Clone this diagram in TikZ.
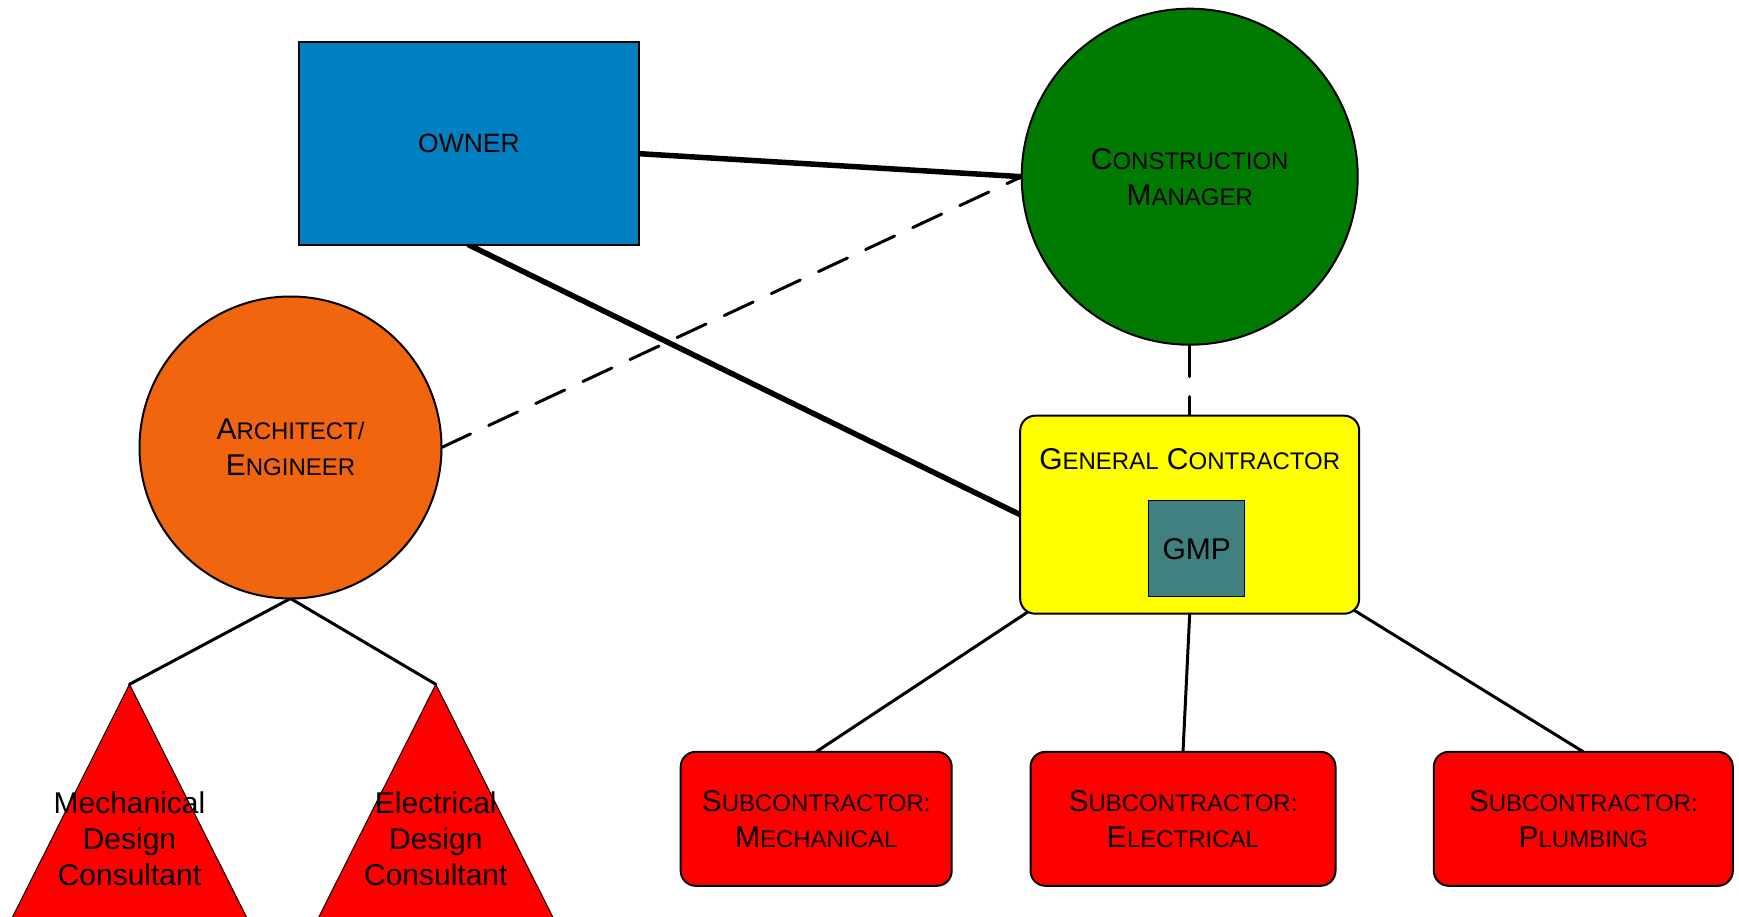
\documentclass[tikz,border=0pt]{standalone}
\usepackage{fontspec}
\setmainfont{Liberation Sans}
\usetikzlibrary{backgrounds}

\definecolor{ownerblue}{RGB}{0,128,192}
\definecolor{cmgreen}{RGB}{0,122,0}
\definecolor{aeorange}{RGB}{240,101,14}
\definecolor{gcyellow}{RGB}{255,255,0}
\definecolor{gmpteal}{RGB}{64,128,128}
\definecolor{subred}{RGB}{255,0,0}

% hand-made small capitals: full-size initial, reduced rest
\newcommand\capL[1]{{\fontsize{30}{36}\selectfont #1}}
\newcommand\capS[1]{{\fontsize{24}{36}\selectfont #1}}

\begin{document}
\begin{tikzpicture}[x=1pt,y=-1pt,
  base/.style={inner sep=0pt, outer sep=0pt, font=\fontsize{30}{36}\selectfont, align=center, text=black},
  party/.style={base, circle, draw=black, line width=2pt},
  box/.style={base, rectangle, draw=black, line width=2pt, rounded corners=15pt},
  plainbox/.style={base, rectangle, draw=black, line width=1.5pt},
  consultant/.style={draw=black, line width=1pt, fill=subred},
  strong/.style={line width=5.5pt, line cap=round},
  link/.style={line width=3pt, line cap=round},
  loose/.style={line width=3pt, line cap=round, dash pattern=on 32pt off 20pt},
]
\useasboundingbox (0,0) rectangle (1739,916);
\clip (0,0) rectangle (1739,916);

% parties
\node[plainbox, fill=ownerblue, minimum width=340pt, minimum height=203pt]
  (owner) at (469,143.5) {\fontsize{26.5}{32}\selectfont OWNER};
\node[party, fill=cmgreen, minimum size=336pt]
  (cm) at (1189.7,176.7) {\capL{C}\capS{ONSTRUCTION}\\\capL{M}\capS{ANAGER}};
\node[party, fill=aeorange, minimum size=302pt]
  (ae) at (290.5,447.5) {\capL{A}\capS{RCHITECT/}\\\capL{E}\capS{NGINEER}};

% general contractor with its GMP
\node[box, fill=gcyellow, minimum width=339pt, minimum height=198pt]
  (gc) at (1189.7,514.7) {};
\node[base] (gclabel) at (1189.7,459.2) {\capL{G}\capS{ENERAL} \capL{C}\capS{ONTRACTOR}};
\node[plainbox, line width=1pt, fill=gmpteal, minimum width=96pt, minimum height=96pt]
  (gmp) at (1196.8,548.8) {GMP};

% subcontractors
\node[box, fill=subred, minimum width=271pt, minimum height=134pt]
  (subm) at (816.2,818.8) {\capL{S}\capS{UBCONTRACTOR:}\\\capL{M}\capS{ECHANICAL}};
\node[box, fill=subred, minimum width=305pt, minimum height=134pt]
  (sube) at (1183,818.8) {\capL{S}\capS{UBCONTRACTOR:}\\\capL{E}\capS{LECTRICAL}};
\node[box, fill=subred, minimum width=299pt, minimum height=134pt]
  (subp) at (1583.3,818.8) {\capL{S}\capS{UBCONTRACTOR:}\\\capL{P}\capS{LUMBING}};

% design consultants (triangles running off the lower edge)
\coordinate (mechtop) at (129.5,684.3);
\coordinate (electop) at (435.8,684.3);
\draw[consultant] (mechtop) -- ++(-140,278.5) -- ++(280,0) -- cycle;
\draw[consultant] (electop) -- ++(-140,278.5) -- ++(280,0) -- cycle;
\node[base] (mechtext) at (129.5,838.3) {Mechanical\\Design\\Consultant};
\node[base] (electext) at (435.8,838.3) {Electrical\\Design\\Consultant};

% relationships
\begin{scope}[on background layer]
  \draw[strong] (owner) -- (cm.west);
  \draw[strong] (owner.south) -- (gc.west);
  \draw[loose] (ae.east) -- (cm.west);
  \draw[loose] (cm.south) -- (gc.north);
  \draw[link] (ae.south) -- (mechtop);
  \draw[link] (ae.south) -- (electop);
  \draw[link] ([xshift=8pt,yshift=2pt]gc.south west) -- (subm.north);
  \draw[link] (gc.south) -- (sube.north);
  \draw[link] ([xshift=-6pt,yshift=4pt]gc.south east) -- (subp.north);
\end{scope}
\end{tikzpicture}
\end{document}
